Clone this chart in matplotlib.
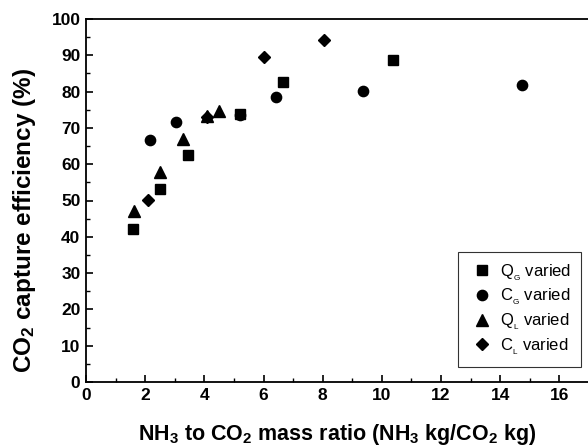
import matplotlib
matplotlib.use('Agg')
from matplotlib import pyplot as plt
from matplotlib.ticker import MultipleLocator

# DATA
qg_x = [1.6, 2.5, 3.45, 5.2, 6.67, 10.36]
qg_y = [42.2, 53.3, 62.6, 73.8, 82.6, 88.7]
cg_x = [2.17, 3.05, 5.2, 6.42, 9.35, 14.72]
cg_y = [66.6, 71.7, 73.6, 78.6, 80.3, 81.9]
ql_x = [1.63, 2.5, 3.28, 4.1, 4.5]
ql_y = [47.0, 57.9, 66.9, 73.3, 74.7]
cl_x = [2.08, 4.09, 6.0, 8.03]
cl_y = [50.2, 72.9, 89.5, 94.1]

series = [
    (qg_x, qg_y, 's', 7.0, r'Q$_{_G}$ varied'),
    (cg_x, cg_y, 'o', 7.4, r'C$_{_G}$ varied'),
    (ql_x, ql_y, '^', 8.0, r'Q$_{_L}$ varied'),
    (cl_x, cl_y, 'D', 6.6, r'C$_{_L}$ varied'),
]

plt.rcParams['font.family'] = ['Liberation Sans', 'DejaVu Sans']
plt.rcParams['mathtext.default'] = 'regular'

fig = plt.figure(figsize=(5.88, 4.47), dpi=100)
ax = fig.add_axes([86 / 588, 65 / 447, 503 / 588, 363 / 447])

for xs, ys, mk, ms, lab in series:
    ax.plot(xs, ys, linestyle='none', marker=mk, markersize=ms,
            color='black', label=lab)

ax.set_xlim(0, 17)
ax.set_ylim(0, 100)
ax.xaxis.set_major_locator(MultipleLocator(2))
ax.xaxis.set_minor_locator(MultipleLocator(1))
ax.yaxis.set_major_locator(MultipleLocator(10))
ax.yaxis.set_minor_locator(MultipleLocator(5))
ax.tick_params(which='major', direction='in', length=5, width=1.2,
               labelsize=12.5, pad=4)
ax.tick_params(which='minor', direction='in', length=3, width=1.0)
for lab in ax.get_xticklabels() + ax.get_yticklabels():
    lab.set_fontweight('bold')
for sp in ax.spines.values():
    sp.set_linewidth(1.3)

ax.set_xlabel(r'NH$_3$ to CO$_2$ mass ratio (NH$_3$ kg/CO$_2$ kg)',
              fontsize=15.5, fontweight='bold', labelpad=14)
ax.set_ylabel('CO$_2$ capture efficiency (%)', fontsize=17.5,
              fontweight='bold')
ax.yaxis.set_label_coords(-0.095, 0.445)

leg = ax.legend(loc='upper left', bbox_to_anchor=(0.7396, 0.358),
                frameon=True, fancybox=False, edgecolor='black',
                fontsize=12, handletextpad=0.2, borderpad=0.6,
                labelspacing=0.25, handlelength=1.7, borderaxespad=0)
leg.get_frame().set_linewidth(0.8)

fig.savefig('out.png', dpi=100)
